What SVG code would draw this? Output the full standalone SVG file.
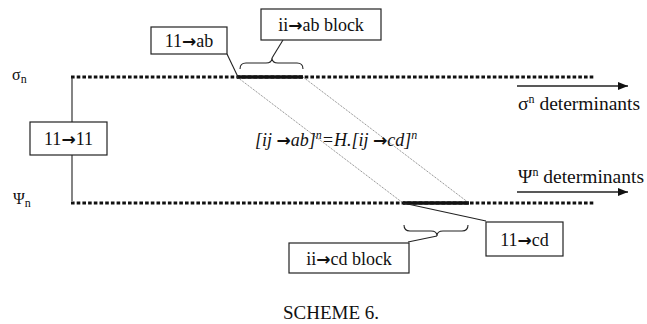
<svg xmlns="http://www.w3.org/2000/svg" width="647" height="324" viewBox="0 0 647 324">
  <style>
    text { font-family: "Liberation Serif", "Times New Roman", serif; fill: #111; }
    .lbl { font-size: 18px; }
    .arr { font-family: "DejaVu Sans", sans-serif; font-weight: bold; font-style: normal; font-size: 17px; }
    .box { fill: #fff; stroke: #222; stroke-width: 1.2; }
    .state { fill: none; stroke: #111; stroke-width: 3; stroke-dasharray: 3.6 2.1; }
    .block { fill: none; stroke: #111; stroke-width: 3.5; }
    .map { fill: none; stroke: #444; stroke-width: 0.7; stroke-dasharray: 1 1; }
    .lead { fill: none; stroke: #222; stroke-width: 1.1; }
    .brace { fill: none; stroke: #222; stroke-width: 1.1; }
    .flow { fill: none; stroke: #222; stroke-width: 1.5; marker-end: url(#head); }
  </style>
  <defs>
    <marker id="head" viewBox="0 0 10 8" refX="10" refY="4" markerWidth="10" markerHeight="8" markerUnits="userSpaceOnUse" orient="auto">
      <path d="M0,0 L10,4 L0,8 Z" fill="#111"/>
    </marker>
  </defs>

  <!-- state rows -->
  <g id="sigma-row">
    <text x="12" y="80" font-size="16">σ<tspan font-size="12" dy="3">n</tspan></text>
    <path class="state" d="M71,77 H595"/>
    <path class="block" d="M237,77 H303"/>
  </g>
  <g id="psi-row">
    <text x="13" y="204" font-size="16">Ψ<tspan font-size="12" dy="3">n</tspan></text>
    <path class="state" d="M71,203 H595"/>
    <path class="block" d="M403,203 H469"/>
  </g>

  <!-- connectors -->
  <g id="connectors">
    <path class="lead" d="M72,77 V122 M72,155 V201"/>
    <path class="map" d="M237,77 L403,203 M303,77 L469,203"/>
    <path class="lead" d="M227,54 L238,77"/>
    <path class="lead" d="M403,203 L486,221"/>
    <path class="brace" d="M240,69 Q240,63 246,63 L266,63 Q272,63 272,58 Q272,63 278,63 L297,63 Q303,63 303,69"/>
    <path class="lead" d="M272,58 L283,40"/>
    <path class="brace" d="M404,225 Q404,231 410,231 L431,231 Q437,231 437,236 Q437,231 443,231 L462,231 Q468,231 468,225"/>
    <path class="lead" d="M437,236 L408,242"/>
    <path class="flow" d="M517,86 H628"/>
    <path class="flow" d="M517,192 H628"/>
  </g>

  <!-- labelled boxes -->
  <g id="box-11-ab">
    <rect class="box" x="151" y="27" width="76" height="27"/>
    <text class="lbl" x="189" y="47" text-anchor="middle">11<tspan class="arr">→</tspan>ab</text>
  </g>
  <g id="box-ij-ab-block">
    <rect class="box" x="261" y="9" width="120" height="31"/>
    <text class="lbl" x="321" y="31" text-anchor="middle">ii<tspan class="arr">→</tspan>ab block</text>
  </g>
  <g id="box-11-11">
    <rect class="box" x="30" y="122" width="77" height="33"/>
    <text class="lbl" x="68.5" y="145" text-anchor="middle">11<tspan class="arr">→</tspan>11</text>
  </g>
  <g id="box-11-cd">
    <rect class="box" x="486" y="222" width="77" height="34"/>
    <text class="lbl" x="524.5" y="246" text-anchor="middle">11<tspan class="arr">→</tspan>cd</text>
  </g>
  <g id="box-ij-cd-block">
    <rect class="box" x="289" y="243" width="120" height="30"/>
    <text class="lbl" x="349" y="265" text-anchor="middle">ii<tspan class="arr">→</tspan>cd block</text>
  </g>

  <!-- free labels -->
  <g id="sigma-det">
    <text x="518" y="110" font-size="19.5">σ<tspan font-size="12" dy="-7">n</tspan><tspan dy="7"> determinants</tspan></text>
  </g>
  <g id="psi-det">
    <text x="518" y="183" font-size="19.5">Ψ<tspan font-size="12" dy="-7">n</tspan><tspan dy="7"> determinants</tspan></text>
  </g>
  <g id="relation">
    <text x="255" y="146" font-size="18" font-style="italic">[ij <tspan class="arr">→</tspan>ab]<tspan font-size="12" dy="-7">n</tspan><tspan dy="7">=H.[ij </tspan><tspan class="arr">→</tspan>cd]<tspan font-size="12" dy="-7">n</tspan></text>
  </g>
  <text x="331" y="319" font-size="19" text-anchor="middle">SCHEME 6.</text>
</svg>
